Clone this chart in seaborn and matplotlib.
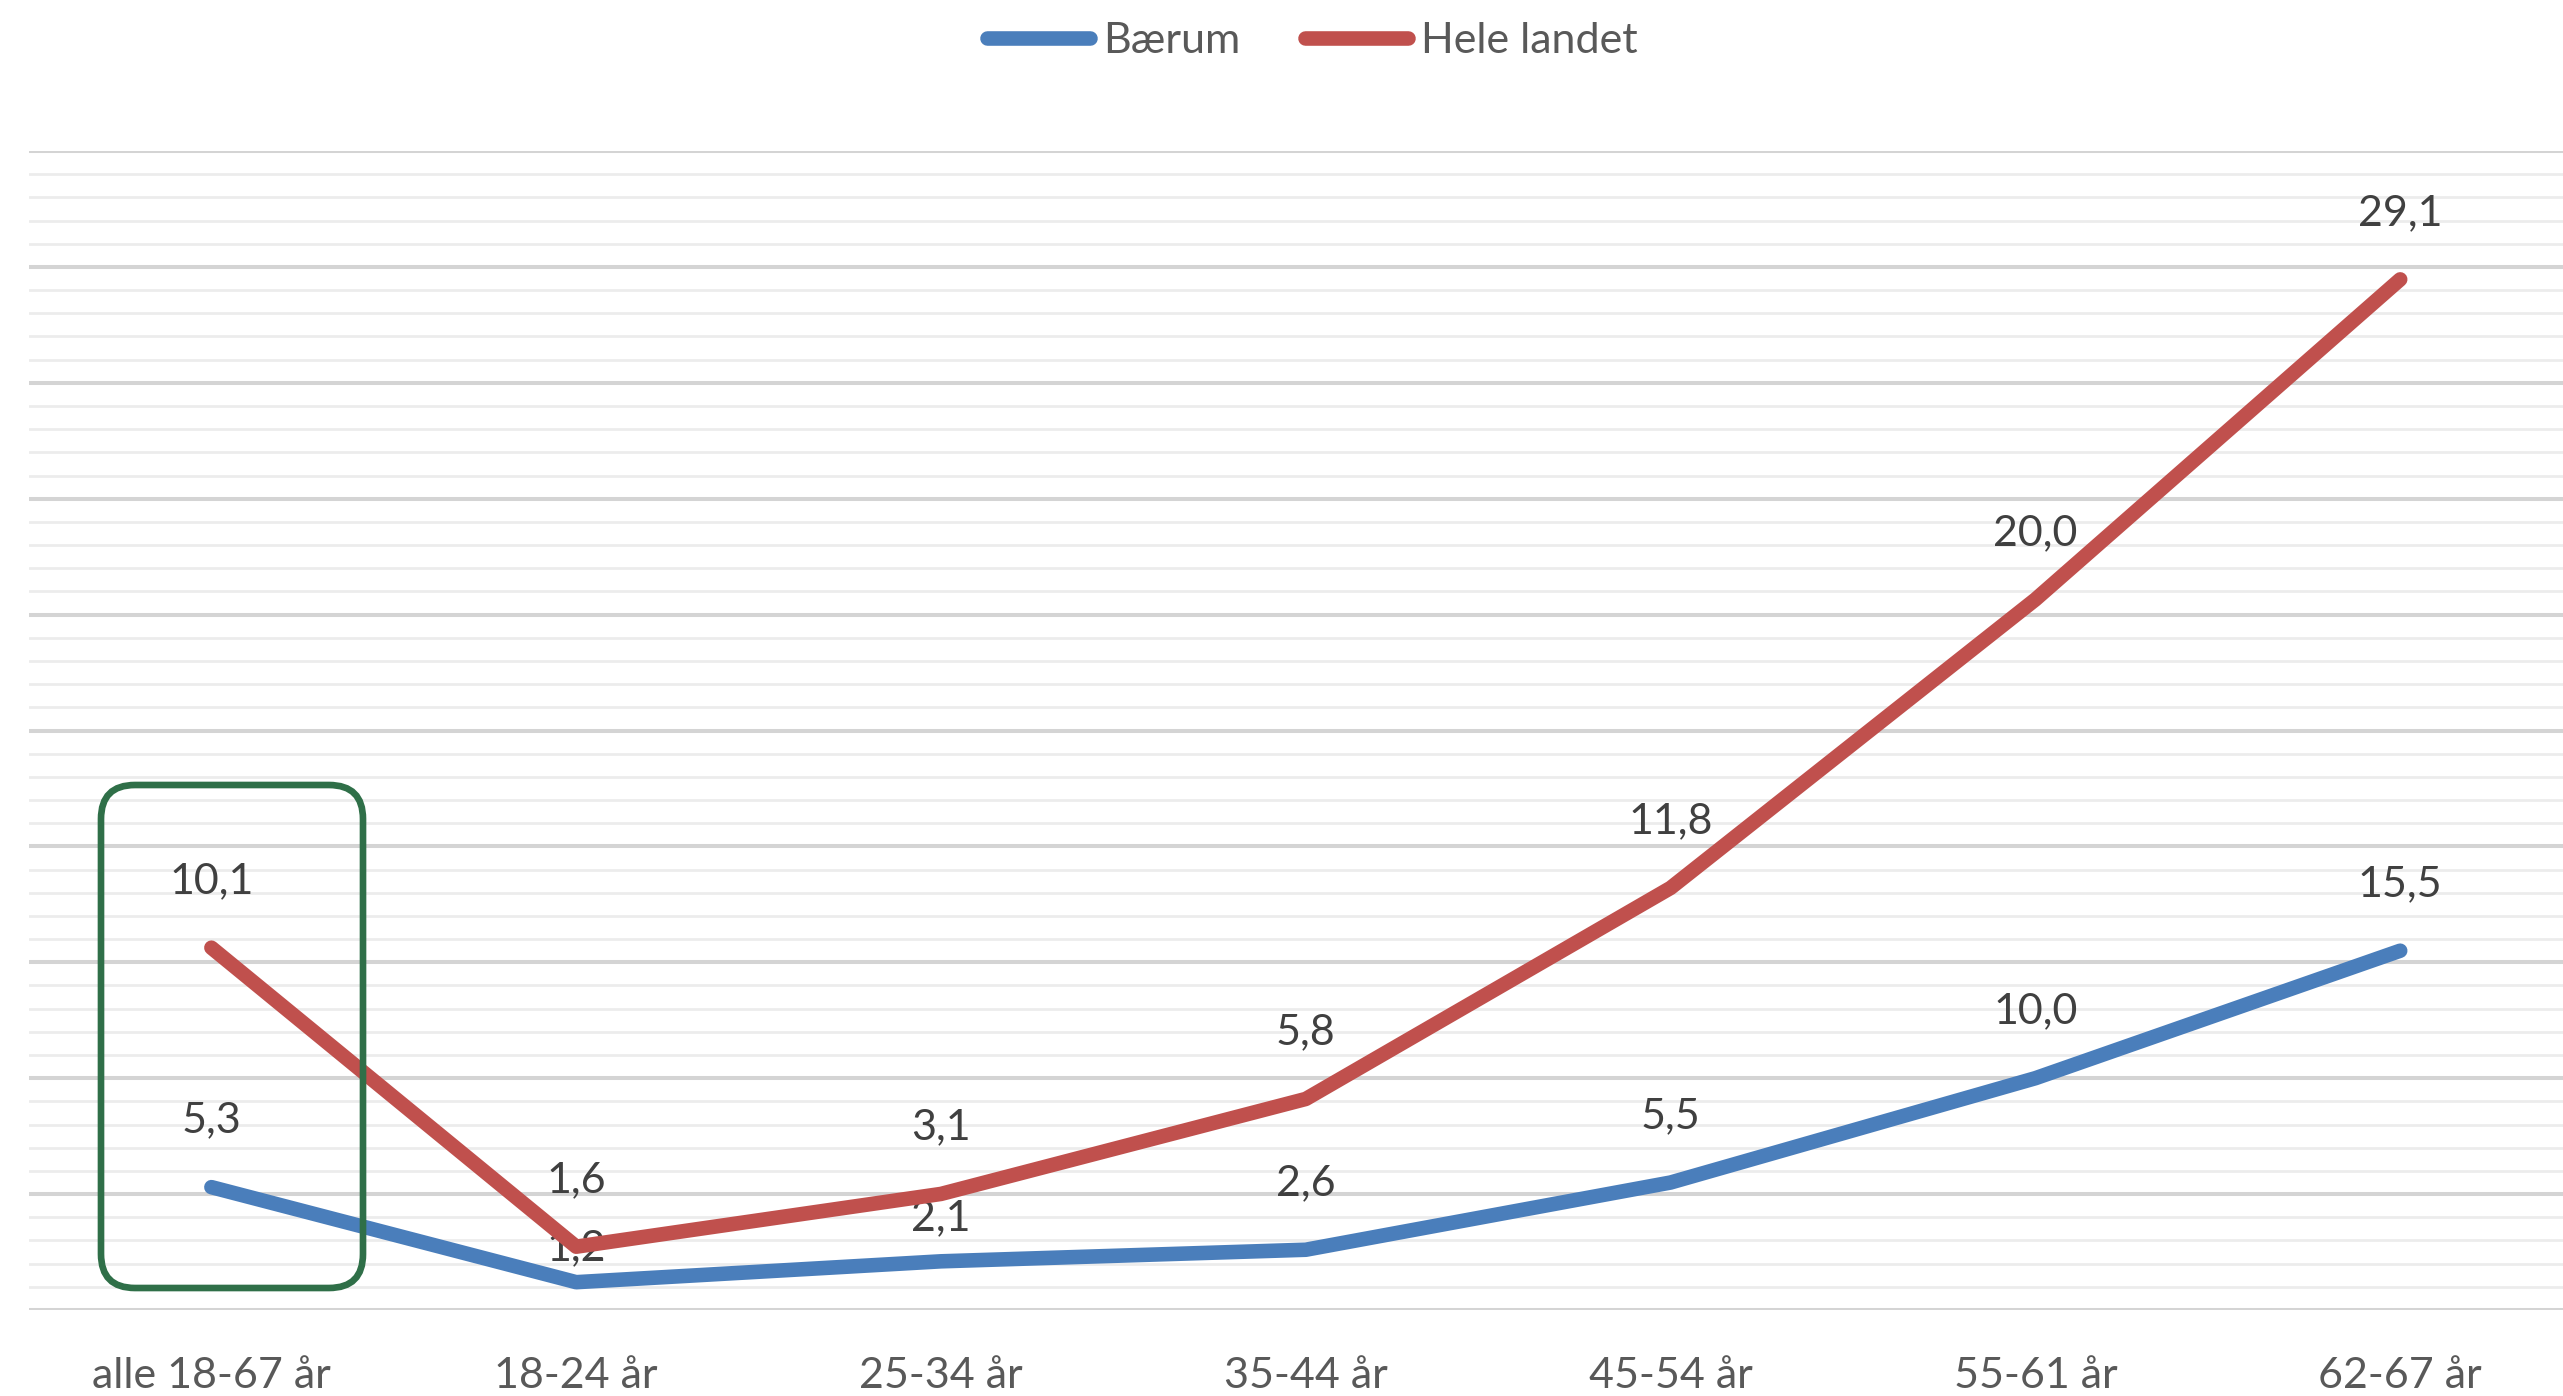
import numpy as np
import pandas as pd
import seaborn as sns
import matplotlib.pyplot as plt
from matplotlib.patches import FancyBboxPatch
from matplotlib.transforms import IdentityTransform

sns.set_theme(style="white")
plt.rcParams['font.family'] = ['Lato', 'DejaVu Sans']

# ---------------- data ----------------
aldersgrupper = ["alle 18-67 år", "18-24 år", "25-34 år", "35-44 år",
                 "45-54 år", "55-61 år", "62-67 år"]
baerum = [5.3, 1.2, 2.1, 2.6, 5.5, 10.0, 15.5]
hele_landet = [10.1, 1.6, 3.1, 5.8, 11.8, 20.0, 29.1]

BLA = "#4a7ebb"
ROD = "#c0504d"
GRONN = "#2f6f48"
TEKST = "#404040"
AKSE = "#595959"
FS = 31

df = pd.DataFrame({"gruppe": aldersgrupper, "Bærum": baerum, "Hele landet": hele_landet})

W, H = 2563, 1396
fig = plt.figure(figsize=(W / 100, H / 100), dpi=100)
ax = fig.add_axes([29 / W, 1 - 1310 / H, 7 * 364.8 / W, 1159 / H])

# gridlinjer (primærakse 0-50)
ax.set_ylim(0, 50)
ax.set_yticks(np.arange(0, 51, 5))
ax.set_yticks(np.arange(0, 51, 1), minor=True)
ax.grid(which="minor", axis="y", color="#ececec", lw=2.0)
ax.grid(which="major", axis="y", color="#d4d4d4", lw=2.9)
ax.set_axisbelow(True)

sns.lineplot(data=df, x="gruppe", y="Bærum", ax=ax, color=BLA, lw=10.5,
             sort=False, solid_capstyle="round", label="Bærum", legend=False)

# Hele landet ligger på sekundærakse
ax2 = ax.twinx()
sns.lineplot(data=df, x="gruppe", y="Hele landet", ax=ax2, color=ROD, lw=10.5,
             sort=False, solid_capstyle="round", label="Hele landet", legend=False)
ax2.set_ylim(-0.2, 32.75)

for a in (ax, ax2):
    a.set_xlim(-0.5, 6.5)
    a.set_xlabel("")
    a.set_ylabel("")
    a.set_yticklabels([])
    a.tick_params(axis="y", length=0, which="both", right=False, left=False)
    for s in a.spines.values():
        s.set_visible(False)
ax2.grid(False)

ax.tick_params(axis="x", length=0, pad=34, labelsize=FS, labelcolor=AKSE)

# dataetiketter
def fmt(v):
    return f"{v:.1f}".replace(".", ",")

ekstra = {("Bærum", 1): 24.5, ("Bærum", 2): 31}
for i, v in enumerate(baerum):
    ax.annotate(fmt(v), (i, v), xytext=(0, ekstra.get(("Bærum", i), 48)),
                textcoords="offset points", ha="center", va="center",
                fontsize=FS, color=TEKST)
for i, v in enumerate(hele_landet):
    ax2.annotate(fmt(v), (i, v), xytext=(0, 48), textcoords="offset points",
                 ha="center", va="center", fontsize=FS, color=TEKST)

# legende
h1, l1 = ax.get_legend_handles_labels()
h2, l2 = ax2.get_legend_handles_labels()
leg = fig.legend(h1 + h2, l1 + l2, loc="center", bbox_to_anchor=(0.512, 0.9706),
                 ncol=2, frameon=False, fontsize=FS, handlelength=2.4,
                 handletextpad=0.3, columnspacing=1.5, labelcolor=AKSE)
for ln in leg.get_lines():
    ln.set_solid_capstyle("round")

# grønn ramme rundt "alle 18-67 år"
boks = FancyBboxPatch((101, H - 1288), 262, 503,
                      boxstyle="round,pad=0,rounding_size=34",
                      transform=IdentityTransform(), fill=False,
                      edgecolor=GRONN, lw=4.8, zorder=10)
fig.patches.append(boks)

fig.savefig("out.png", dpi=100)
